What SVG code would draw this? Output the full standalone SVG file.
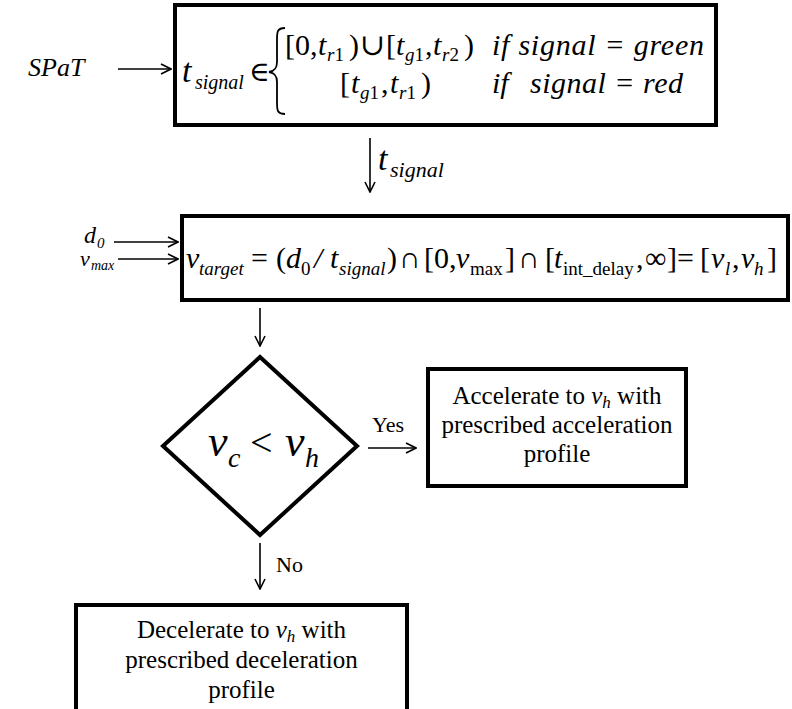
<svg xmlns="http://www.w3.org/2000/svg" width="792" height="709" viewBox="0 0 792 709" font-family="'Liberation Serif','Times New Roman','DejaVu Serif',serif">
<style>
text{font-family:"Liberation Serif","Times New Roman","DejaVu Serif",serif;fill:#000}
.i{font-style:italic}
.box{fill:#fff;stroke:#000;stroke-width:4}
.conn{stroke:#000;stroke-width:1.6;fill:none}
</style>
<defs>
<marker id="ah" viewBox="0 0 12 12" refX="11" refY="6" markerWidth="12" markerHeight="12" markerUnits="userSpaceOnUse" orient="auto">
<path d="M1,1 L11,6 L1,11" fill="none" stroke="#000" stroke-width="1.6"/>
</marker>
</defs>
<rect width="792" height="709" fill="#fff"/>

<g id="connectors">
<line class="conn" x1="118" y1="69" x2="171" y2="69" marker-end="url(#ah)"/>
<line class="conn" x1="370" y1="138" x2="370" y2="192" marker-end="url(#ah)"/>
<line class="conn" x1="114" y1="242" x2="178" y2="242" marker-end="url(#ah)"/>
<line class="conn" x1="118" y1="259" x2="178" y2="259" marker-end="url(#ah)"/>
<line class="conn" x1="260" y1="308" x2="260" y2="346" marker-end="url(#ah)"/>
<line class="conn" x1="368" y1="448" x2="416" y2="448" marker-end="url(#ah)"/>
<line class="conn" x1="260" y1="543" x2="260" y2="589" marker-end="url(#ah)"/>
<text x="28" y="76" font-size="26" class="i">SPaT</text>
<text font-size="34" class="i" x="378" y="170">t<tspan x="390" y="177" font-size="22">signal</tspan></text>
<text font-size="24" class="i" x="84" y="243">d<tspan x="97" y="248" font-size="15">0</tspan></text>
<text font-size="22" class="i" x="80" y="266">v<tspan x="91" y="270" font-size="14">max</tspan></text>
<text x="372" y="432" font-size="22">Yes</text>
<text x="276" y="572" font-size="22">No</text>
</g>

<g id="signal-box">
<rect class="box" x="175" y="5" width="541" height="120"/>
<text font-size="34" class="i" x="182" y="82">t<tspan x="195" y="89" font-size="20">signal</tspan></text>
<text font-size="28" x="249" y="81">∈</text>
<path d="M285,28 C277,28 277,32 277,40 L277,62 C277,68 275,71 269,72 C275,73 277,76 277,82 L277,102 C277,110 277,114 285,114" fill="none" stroke="#000" stroke-width="1.8"/>
<text font-size="30" y="55"><tspan x="285">[0,</tspan><tspan x="318" class="i">t</tspan><tspan x="327" y="61" font-size="19"><tspan class="i">r</tspan>1</tspan><tspan x="349" y="55">)</tspan><tspan x="360">∪</tspan><tspan x="386">[</tspan><tspan x="396" class="i">t</tspan><tspan x="405" y="61" font-size="19"><tspan class="i">g</tspan>1</tspan><tspan x="425" y="55">,</tspan><tspan x="433" class="i">t</tspan><tspan x="442" y="61" font-size="19"><tspan class="i">r</tspan>2</tspan><tspan x="464" y="55">)</tspan></text>
<text font-size="30" class="i" x="492" y="55" textLength="212" lengthAdjust="spacing">if signal = green</text>
<text font-size="30" y="93"><tspan x="340">[</tspan><tspan x="351" class="i">t</tspan><tspan x="360" y="99" font-size="19"><tspan class="i">g</tspan>1</tspan><tspan x="381" y="93">,</tspan><tspan x="390" class="i">t</tspan><tspan x="399" y="99" font-size="19"><tspan class="i">r</tspan>1</tspan><tspan x="421" y="93">)</tspan></text>
<text font-size="30" class="i" x="492" y="93">if</text>
<text font-size="30" class="i" x="530" y="93" textLength="153" lengthAdjust="spacing">signal = red</text>
</g>

<g id="target-box">
<rect class="box" x="182" y="216" width="606" height="84"/>
<text font-size="30" y="268"><tspan x="186" class="i">v</tspan><tspan x="199" y="275" font-size="19" class="i">target</tspan><tspan x="251" y="268">=</tspan><tspan x="276">(</tspan><tspan x="286" class="i">d</tspan><tspan x="301" y="275" font-size="19">0</tspan><tspan x="314" y="268" class="i">/</tspan><tspan x="330" class="i">t</tspan><tspan x="339" y="275" font-size="19" class="i">signal</tspan><tspan x="387" y="268">)</tspan><tspan x="399">∩</tspan><tspan x="424">[0,</tspan><tspan x="456" class="i">v</tspan><tspan x="470" y="275" font-size="19">max</tspan><tspan x="505" y="268">]</tspan><tspan x="518">∩</tspan><tspan x="545">[</tspan><tspan x="554" class="i">t</tspan><tspan x="563" y="275" font-size="19">int_delay</tspan><tspan x="636" y="268">,</tspan><tspan x="645">∞</tspan><tspan x="667">]</tspan><tspan x="677">=</tspan><tspan x="700">[</tspan><tspan x="711" class="i">v</tspan><tspan x="725" y="275" font-size="19" class="i">l</tspan><tspan x="732" y="268">,</tspan><tspan x="741" class="i">v</tspan><tspan x="754" y="275" font-size="19" class="i">h</tspan><tspan x="767" y="268">]</tspan></text>
</g>

<g id="decision">
<polygon points="260,357 357,446 260,535 163,446" fill="#fff" stroke="#000" stroke-width="4" stroke-linejoin="miter"/>
<text font-size="44" class="i" x="208" y="456">v<tspan x="228" y="467" font-size="28">c</tspan><tspan x="250" y="456" font-style="normal" font-size="40">&lt;</tspan><tspan x="285" y="456">v</tspan><tspan x="305" y="467" font-size="28">h</tspan></text>
</g>

<g id="accelerate">
<rect class="box" x="428" y="369" width="258" height="117"/>
<text font-size="25" text-anchor="middle" x="557" y="404">Accelerate to <tspan class="i">v</tspan><tspan class="i" font-size="17" dy="4">h</tspan><tspan dy="-4"> with</tspan></text>
<text font-size="25" text-anchor="middle" x="557" y="433">prescribed acceleration</text>
<text font-size="25" text-anchor="middle" x="557" y="462">profile</text>
</g>

<g id="decelerate">
<rect class="box" x="76" y="605" width="331" height="120"/>
<text font-size="25" text-anchor="middle" x="241.5" y="638">Decelerate to <tspan class="i">v</tspan><tspan class="i" font-size="17" dy="4">h</tspan><tspan dy="-4"> with</tspan></text>
<text font-size="25" text-anchor="middle" x="241.5" y="668">prescribed deceleration</text>
<text font-size="25" text-anchor="middle" x="241.5" y="698">profile</text>
</g>
</svg>
